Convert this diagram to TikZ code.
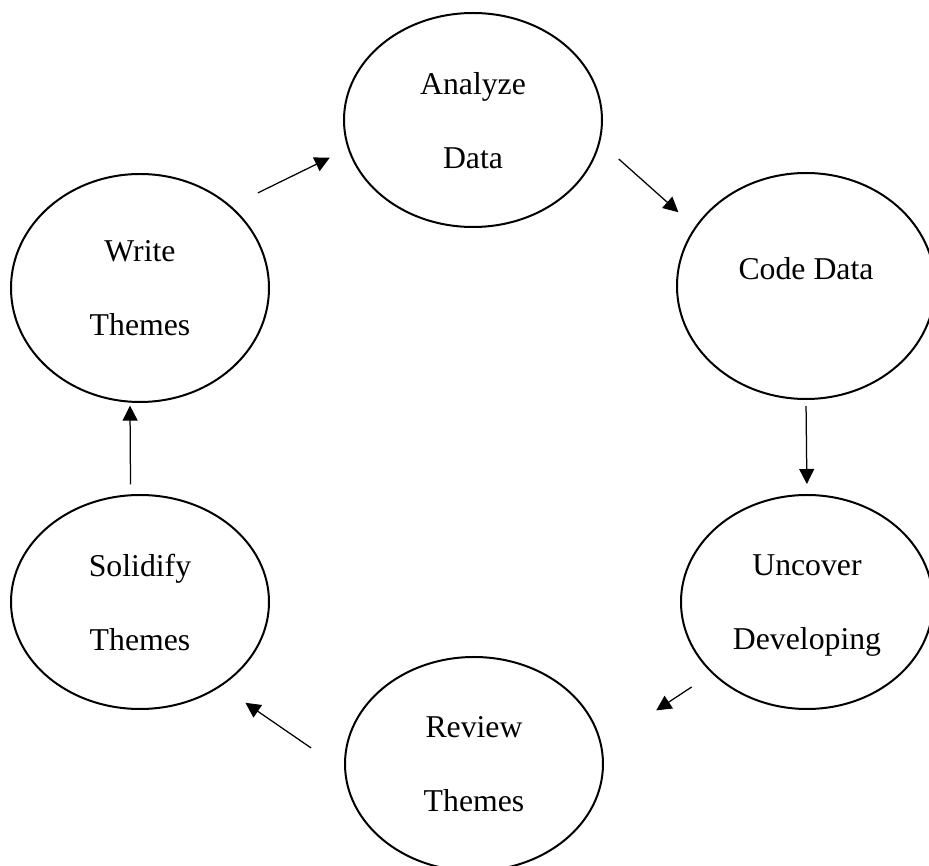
\documentclass[tikz,border=0pt]{standalone}
\usepackage{fontspec}
\setmainfont{Liberation Serif}
\usetikzlibrary{shapes.geometric,arrows.meta}

\tikzset{
  stage/.style={ellipse, draw, line width=0.8pt, minimum width=103.2pt, minimum height=85.6pt,
    inner sep=0pt, align=center, text depth=0pt, font=\fontsize{12.7}{29.6}\selectfont},
  flow/.style={line width=0.5pt, -{Triangle[length=6pt,width=6pt]}}
}

\begin{document}
\begin{tikzpicture}[x=0.4pt,y=-0.4pt]
  \useasboundingbox (0,0) rectangle (929,866);
  \clip (0,0) rectangle (929,866);

  \node[stage] (analyze) at (473,120) {Analyze\\Data};
  \node[stage, minimum height=91.2pt] (write) at (140,288) {Write\\Themes};
  \node[stage, minimum height=90.4pt, text depth=14pt] (code) at (806,286) {Code Data};
  \node[stage, minimum width=100.8pt] (uncover) at (807,602) {Uncover\\Developing};
  \node[stage] (review) at (474,764) {Review\\Themes};
  \node[stage] (solidify) at (140,602) {Solidify\\Themes};

  \foreach \a/\b/\s/\e in {write.42/analyze.193/11.9pt/8pt, analyze.350/code.152/10pt/8.8pt,
      code.south/uncover.north/2.4pt/4pt, uncover.217/review.8/9.7pt/25.9pt,
      review.183/solidify.314/16.1pt/11.7pt, solidify.95/write.265/4pt/1.2pt}{
    \draw[flow, shorten <=\s, shorten >=\e] (\a) -- (\b);
  }
\end{tikzpicture}
\end{document}
